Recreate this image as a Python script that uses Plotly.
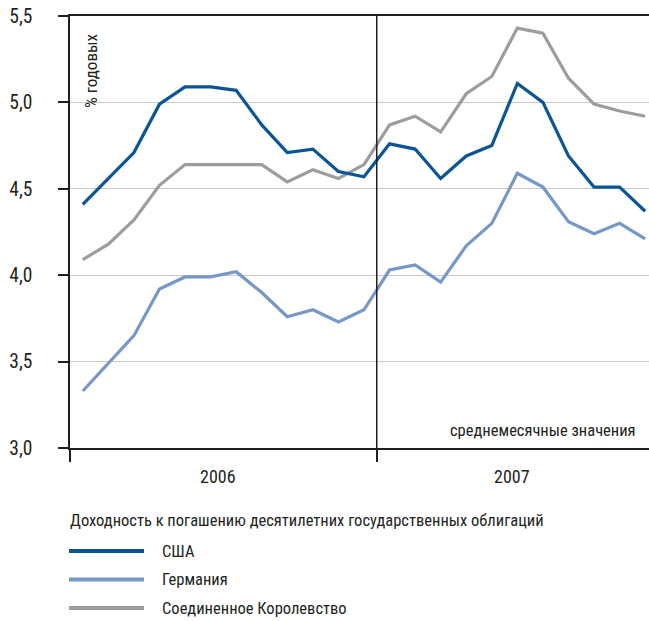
import plotly.graph_objects as go

# Monthly averages of 10-year government bond yields, Jan 2006 - Nov 2007
months = [f"2006-{m:02d}" for m in range(1, 13)] + [f"2007-{m:02d}" for m in range(1, 12)]
usa = [4.41, 4.56, 4.71, 4.99, 5.09, 5.09, 5.07, 4.87, 4.71, 4.73, 4.60, 4.57,
       4.76, 4.73, 4.56, 4.69, 4.75, 5.11, 5.00, 4.69, 4.51, 4.51, 4.37]
germany = [3.33, 3.49, 3.65, 3.92, 3.99, 3.99, 4.02, 3.90, 3.76, 3.80, 3.73, 3.80,
           4.03, 4.06, 3.96, 4.17, 4.30, 4.59, 4.51, 4.31, 4.24, 4.30, 4.21]
uk = [4.09, 4.18, 4.32, 4.52, 4.64, 4.64, 4.64, 4.64, 4.54, 4.61, 4.56, 4.64,
      4.87, 4.92, 4.83, 5.05, 5.15, 5.43, 5.40, 5.14, 4.99, 4.95, 4.92]

series_names = ["США", "Германия", "Соединенное Королевство"]
series_colors = ["#0b5594", "#7598c7", "#9d9d9d"]
year_labels = ["2006", "2007"]
y_ticks = [3.0, 3.5, 4.0, 4.5, 5.0, 5.5]

FONT = "Liberation Sans Narrow, Arial Narrow, Roboto Condensed, DejaVu Sans Condensed, sans-serif"
TEXT = "#231f20"

W, H = 649, 621
ML, MR, MT, MB = 70, 0, 16, 173
PW, PH = W - ML - MR, H - MT - MB


def px_x(x):
    return (x - ML) / PW


def px_y(y):
    return (H - MB - y) / PH


x = list(range(len(months)))
traces = {}
for name, vals, col in zip(series_names, [usa, germany, uk], series_colors):
    traces[name] = go.Scatter(
        x=x, y=vals, mode="lines", name=name,
        line=dict(color=col, width=3.2), hovertext=months,
    )

fig = go.Figure()
# UK drawn first so the two other series sit on top of it
for name in reversed(series_names):
    fig.add_trace(traces[name])

fig.update_layout(
    width=W, height=H,
    margin=dict(l=ML, r=MR, t=MT, b=MB),
    paper_bgcolor="white", plot_bgcolor="white",
    showlegend=False,
    separators=", ",
    font=dict(family=FONT, color=TEXT, size=16.5),
)
fig.update_xaxes(
    range=[-0.5, 22.15], showgrid=False, zeroline=False,
    showline=True, linecolor=TEXT, linewidth=1.5, mirror=True,
    tickmode="array", tickvals=[-0.5, 11.5], ticktext=["", ""],
    ticks="outside", ticklen=12, tickwidth=1.5, tickcolor=TEXT,
)
fig.update_yaxes(
    range=[3.0, 5.5], showgrid=True, gridcolor="#c9c9c9", gridwidth=1,
    zeroline=False, showline=True, linecolor=TEXT, linewidth=1.5,
    tickmode="array", tickvals=y_ticks, tickformat=".1f",
    ticks="outside", ticklen=10, tickwidth=1.5, tickcolor=TEXT,
    tickfont=dict(size=19.5, color=TEXT), ticklabelstandoff=22,
)

# year divider
fig.add_shape(type="line", xref="x", yref="paper", x0=11.5, x1=11.5, y0=0, y1=1,
              line=dict(color=TEXT, width=1.5))

# year labels
for lbl, xc in zip(year_labels, [5.3, 16.8]):
    fig.add_annotation(x=xc, xref="x", y=px_y(477), yref="paper", text=lbl,
                       showarrow=False, font=dict(size=18, color=TEXT),
                       xanchor="center", yanchor="middle")

fig.add_annotation(x=px_x(91), y=px_y(32), xref="paper", yref="paper",
                   text="% годовых", textangle=-90, showarrow=False,
                   font=dict(size=17, color=TEXT), xanchor="center", yanchor="top")
fig.add_annotation(x=px_x(638), y=px_y(430), xref="paper", yref="paper",
                   text="среднемесячные значения", showarrow=False,
                   font=dict(size=16.5, color=TEXT), xanchor="right", yanchor="middle")

# legend
fig.add_annotation(x=px_x(68), y=px_y(520), xref="paper", yref="paper",
                   text="Доходность к погашению десятилетних государственных облигаций",
                   showarrow=False, font=dict(size=16.5, color=TEXT),
                   xanchor="left", yanchor="middle")
for i, (name, col) in enumerate(zip(series_names, series_colors)):
    yy = px_y(551 + i * 28.5)
    fig.add_shape(type="line", xref="paper", yref="paper",
                  x0=px_x(69), x1=px_x(144), y0=yy, y1=yy,
                  line=dict(color=col, width=4))
    fig.add_annotation(x=px_x(160), y=yy, xref="paper", yref="paper", text=name,
                       showarrow=False, font=dict(size=16.5, color=TEXT),
                       xanchor="left", yanchor="middle")

fig.write_html("out.html")
